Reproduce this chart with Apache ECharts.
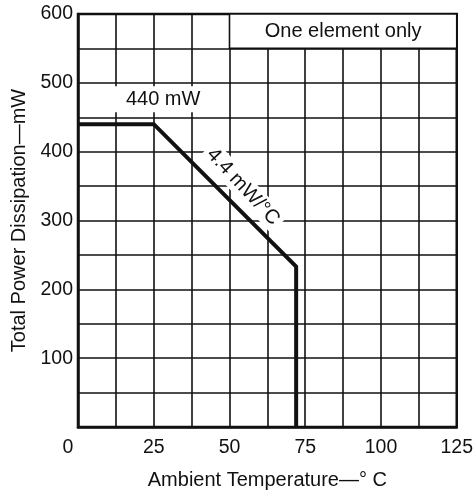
<!DOCTYPE html>
<html>
<head>
<meta charset="utf-8">
<script src="https://cdn.jsdelivr.net/npm/echarts@6/dist/echarts.min.js"></script>
<style>html,body{margin:0;padding:0;background:#fff}#c{width:476px;height:495px}</style>
</head>
<body>
<div id="c"></div>
<script>
const curveTemps = [0, 25, 72, 72];
const curvePower = [440, 440, 233, 0];
const xTicks = [0, 25, 50, 75, 100, 125];
const yTicks = [100, 200, 300, 400, 500, 600];
const headerText = 'One element only';
const headerRange = [[50, 550], [125, 600]];
const flatLabel = { text: '440 mW', at: [28.1, 476] };
const slopeLabel = { text: '4.4 mW/°C', at: [54.5, 349] };

const FONT = 'Liberation Sans, Arial, Helvetica, sans-serif';
const chart = echarts.init(document.getElementById('c'), null, { renderer: 'canvas' });
chart.setOption({
  backgroundColor: '#fff',
  animation: false,
  grid: { left: 78, right: 16, top: 14, bottom: 65, show: true, borderColor: '#111', borderWidth: 2.5 },
  xAxis: {
    type: 'value', min: 0, max: 125, interval: 25,
    name: 'Ambient Temperature—° C', nameLocation: 'middle', nameGap: 43,
    nameTextStyle: { fontFamily: FONT, fontSize: 20, color: '#111' },
    axisLine: { show: true, lineStyle: { color: '#111', width: 2.5 } },
    axisTick: { show: false },
    axisLabel: {
      margin: 11, fontFamily: FONT, fontSize: 19.5, color: '#111',
      formatter: v => xTicks.includes(v) ? (v === 0 ? '{z|0}' : String(v)) : '',
      rich: { z: { fontFamily: FONT, fontSize: 19.5, color: '#111', padding: [0, 20, 0, 0] } }
    },
    splitLine: { show: true, lineStyle: { color: '#111', width: 1.6 } },
    minorTick: { show: false, splitNumber: 2 },
    minorSplitLine: { show: true, lineStyle: { color: '#111', width: 1.6 } }
  },
  yAxis: {
    type: 'value', min: 0, max: 600, interval: 100,
    name: 'Total Power Dissipation—mW', nameLocation: 'middle', nameGap: 45,
    nameTextStyle: { fontFamily: FONT, fontSize: 20, color: '#111' },
    axisLine: { show: true, lineStyle: { color: '#111', width: 2.5 } },
    axisTick: { show: false },
    axisLabel: {
      margin: 5, fontFamily: FONT, fontSize: 19.5, color: '#111',
      formatter: v => yTicks.includes(v) ? String(v) : ''
    },
    splitLine: { show: true, lineStyle: { color: '#111', width: 1.6 } },
    minorTick: { show: false, splitNumber: 2 },
    minorSplitLine: { show: true, lineStyle: { color: '#111', width: 1.6 } }
  },
  series: [{
    type: 'line',
    data: curveTemps.map((t, i) => [t, curvePower[i]]),
    showSymbol: false,
    lineStyle: { color: '#111', width: 4, join: 'miter' },
    markArea: {
      silent: true,
      itemStyle: { color: '#fff', borderColor: '#111', borderWidth: 1.6 },
      label: { show: true, position: 'inside', fontFamily: FONT, fontSize: 20, color: '#111', formatter: headerText },
      data: [[{ coord: headerRange[0] }, { coord: headerRange[1] }]]
    },
    markPoint: {
      silent: true,
      symbol: 'circle', symbolSize: 0,
      data: [
        { coord: flatLabel.at, label: { show: true, formatter: flatLabel.text, fontFamily: FONT, fontSize: 20, color: '#111', backgroundColor: '#fff', padding: [3, 12, 3, 12], position: 'inside' } },
        { coord: slopeLabel.at, label: { show: true, formatter: slopeLabel.text, rotate: -47, fontFamily: FONT, fontSize: 20, color: '#111', backgroundColor: '#fff', padding: [2, 4, 1, 4], position: 'inside' } }
      ]
    }
  }]
});
</script>
</body>
</html>
